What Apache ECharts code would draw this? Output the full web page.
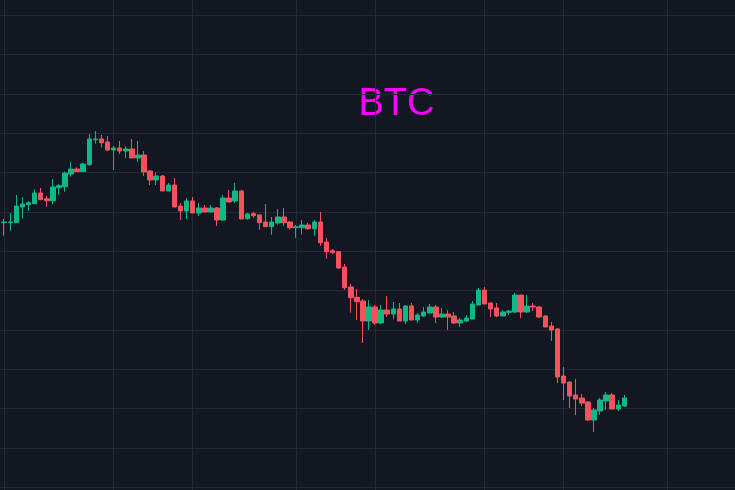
<!DOCTYPE html>
<html>
<head>
<meta charset="utf-8">
<style>
  html, body { margin: 0; padding: 0; background: #131722; }
  #chart { width: 735px; height: 490px; }
</style>
<script src="https://cdn.jsdelivr.net/npm/echarts@6/dist/echarts.min.js"></script>
</head>
<body>
<div id="chart"></div>
<script>
// ---- data (price values) ----
const opens = [
  19727,19727,19727,20126,20184,20210,20482,20337,20286,20617,
  20642,20965,21092,21024,21202,21837,21855,21779,21575,21626,
  21550,21601,21372,21448,21041,20813,20914,20533,20685,20151,
  20024,20279,19973,20101,19999,20101,19796,20355,20279,20533,
  19828,19956,19923,19745,19625,19719,19872,19745,19600,19600,
  19668,19574,19745,19236,19015,18989,18600,18092,17830,17736,
  17227,17583,17177,17507,17405,17533,17227,17609,17253,17355,
  17431,17583,17329,17405,17355,17177,17227,17278,17634,18016,
  17685,17558,17355,17449,17456,17888,17456,17609,17583,17355,
  17100,17024,15829,15676,15346,15270,15168,14710,14939,15193,
  15346,14990,15066
];
const closes = [
  19745,19745,20151,20202,20235,20482,20312,20286,20635,20668,
  20991,21092,21024,21219,21855,21855,21761,21575,21626,21550,
  21601,21372,21448,21016,20813,20914,20533,20685,20126,20024,
  20279,19973,20101,19999,20101,19796,20355,20253,20533,19821,
  19948,19905,19727,19625,19745,19872,19727,19600,19625,19668,
  19574,19745,19218,18989,18964,18575,18074,17820,17718,17227,
  17583,17177,17507,17405,17533,17227,17609,17253,17380,17456,
  17583,17329,17405,17329,17177,17253,17304,17660,18016,17660,
  17533,17355,17456,17482,17888,17456,17609,17583,17329,17075,
  16999,15804,15651,15321,15244,15142,14710,14965,15219,15346,
  14990,15091,15270
];
const lows = [
  19396,19523,19727,19828,20032,20210,20312,20134,20195,20439,
  20515,20896,21024,21024,21176,21736,21639,21550,21067,21474,
  21372,21372,21270,20914,20685,20685,20533,20533,20126,19796,
  19821,19973,19897,19999,19999,19643,19770,20253,20228,19821,
  19803,19854,19549,19625,19422,19676,19651,19549,19345,19422,
  19549,19396,19142,18811,18939,18550,18023,17438,17253,16668,
  16999,17126,17151,17329,17278,17227,17151,17253,17177,17329,
  17431,17177,17304,16999,17151,17075,17202,17278,17634,17660,
  17329,17329,17355,17380,17431,17304,17431,17482,17304,17075,
  16719,15651,15219,15015,14837,15066,14685,14405,14837,14965,
  14990,14939,15041
];
const highs = [
  19821,19973,20431,20373,20279,20576,20609,20406,20838,20711,
  21024,21270,21135,21252,21982,22058,21957,21931,21677,21804,
  21677,21855,21804,21550,21067,21003,20940,20736,20863,20228,
  20355,20380,20228,20177,20177,20126,20431,20558,20736,20558,
  19973,19999,19948,20202,19872,20075,20101,19770,19668,19796,
  19719,19796,19999,19338,19058,19007,18677,18168,18041,17787,
  17761,17634,17634,17863,17710,17685,17634,17685,17431,17583,
  17660,17634,17558,17507,17456,17304,17380,17736,18067,18092,
  17685,17685,17507,17507,17939,17888,17888,17685,17609,17380,
  17202,17050,16058,15702,15753,15371,15193,15015,15270,15422,
  15397,15219,15346
];
// time slots on the x axis (the slots after the data are still empty)
const slotCount = 121;
const categories = Array.from({ length: slotCount }, (_, i) => String(i + 1));
// slots where the chart draws its vertical time marks
const timeMarks = [0, 18, 31, 48, 61, 79, 92, 109];
// visible price range of the pane and its grid step
const priceMin = 12931;
const priceMax = 25389;
const priceStep = 1000;
const titleText = 'BTC';

// ---- chart ----
const candles = opens.map((o, i) => [o, closes[i], lows[i], highs[i]]);
const UP = '#11b886';
const DOWN = '#f5525b';
const GRID = '#252936';

const chart = echarts.init(document.getElementById('chart'), null, { renderer: 'canvas' });
chart.setOption({
  animation: false,
  backgroundColor: '#131722',
  grid: [
    // full pane: horizontal price grid
    { left: 0, right: 0, top: 0, bottom: 0, containLabel: false },
    // candle area
    { left: 4.2, right: 1.2, top: 0, bottom: 0, containLabel: false }
  ],
  xAxis: [
    { type: 'value', gridIndex: 0, min: 0, max: 1, show: false },
    {
      type: 'category',
      gridIndex: 1,
      data: categories,
      boundaryGap: false,
      axisLine: { show: false },
      axisTick: { show: false },
      axisLabel: { show: false },
      splitLine: {
        show: true,
        interval: (idx) => timeMarks.includes(idx),
        lineStyle: { color: GRID, width: 1 }
      }
    }
  ],
  yAxis: [
    {
      type: 'value',
      gridIndex: 0,
      min: priceMin,
      max: priceMax,
      splitNumber: 12,
      minInterval: priceStep,
      maxInterval: priceStep,
      axisLine: { show: false },
      axisTick: { show: false },
      axisLabel: { show: false },
      splitLine: { show: true, showMinLine: false, showMaxLine: false, lineStyle: { color: GRID, width: 1 } }
    },
    {
      type: 'value',
      gridIndex: 1,
      min: priceMin,
      max: priceMax,
      axisLine: { show: false },
      axisTick: { show: false },
      axisLabel: { show: false },
      splitLine: { show: false }
    }
  ],
  graphic: [{
    type: 'text',
    x: 396.5,
    y: 104.5,
    style: {
      text: titleText,
      fill: '#ff00ff',
      font: '38px "Liberation Sans", Arial, sans-serif',
      textAlign: 'center',
      textVerticalAlign: 'middle'
    }
  }],
  series: [{
    type: 'candlestick',
    xAxisIndex: 1,
    yAxisIndex: 1,
    data: candles,
    barWidth: 5,
    clip: false,
    itemStyle: {
      color: UP,
      color0: DOWN,
      borderColor: UP,
      borderColor0: DOWN,
      borderWidth: 1
    }
  }]
});
</script>
</body>
</html>
